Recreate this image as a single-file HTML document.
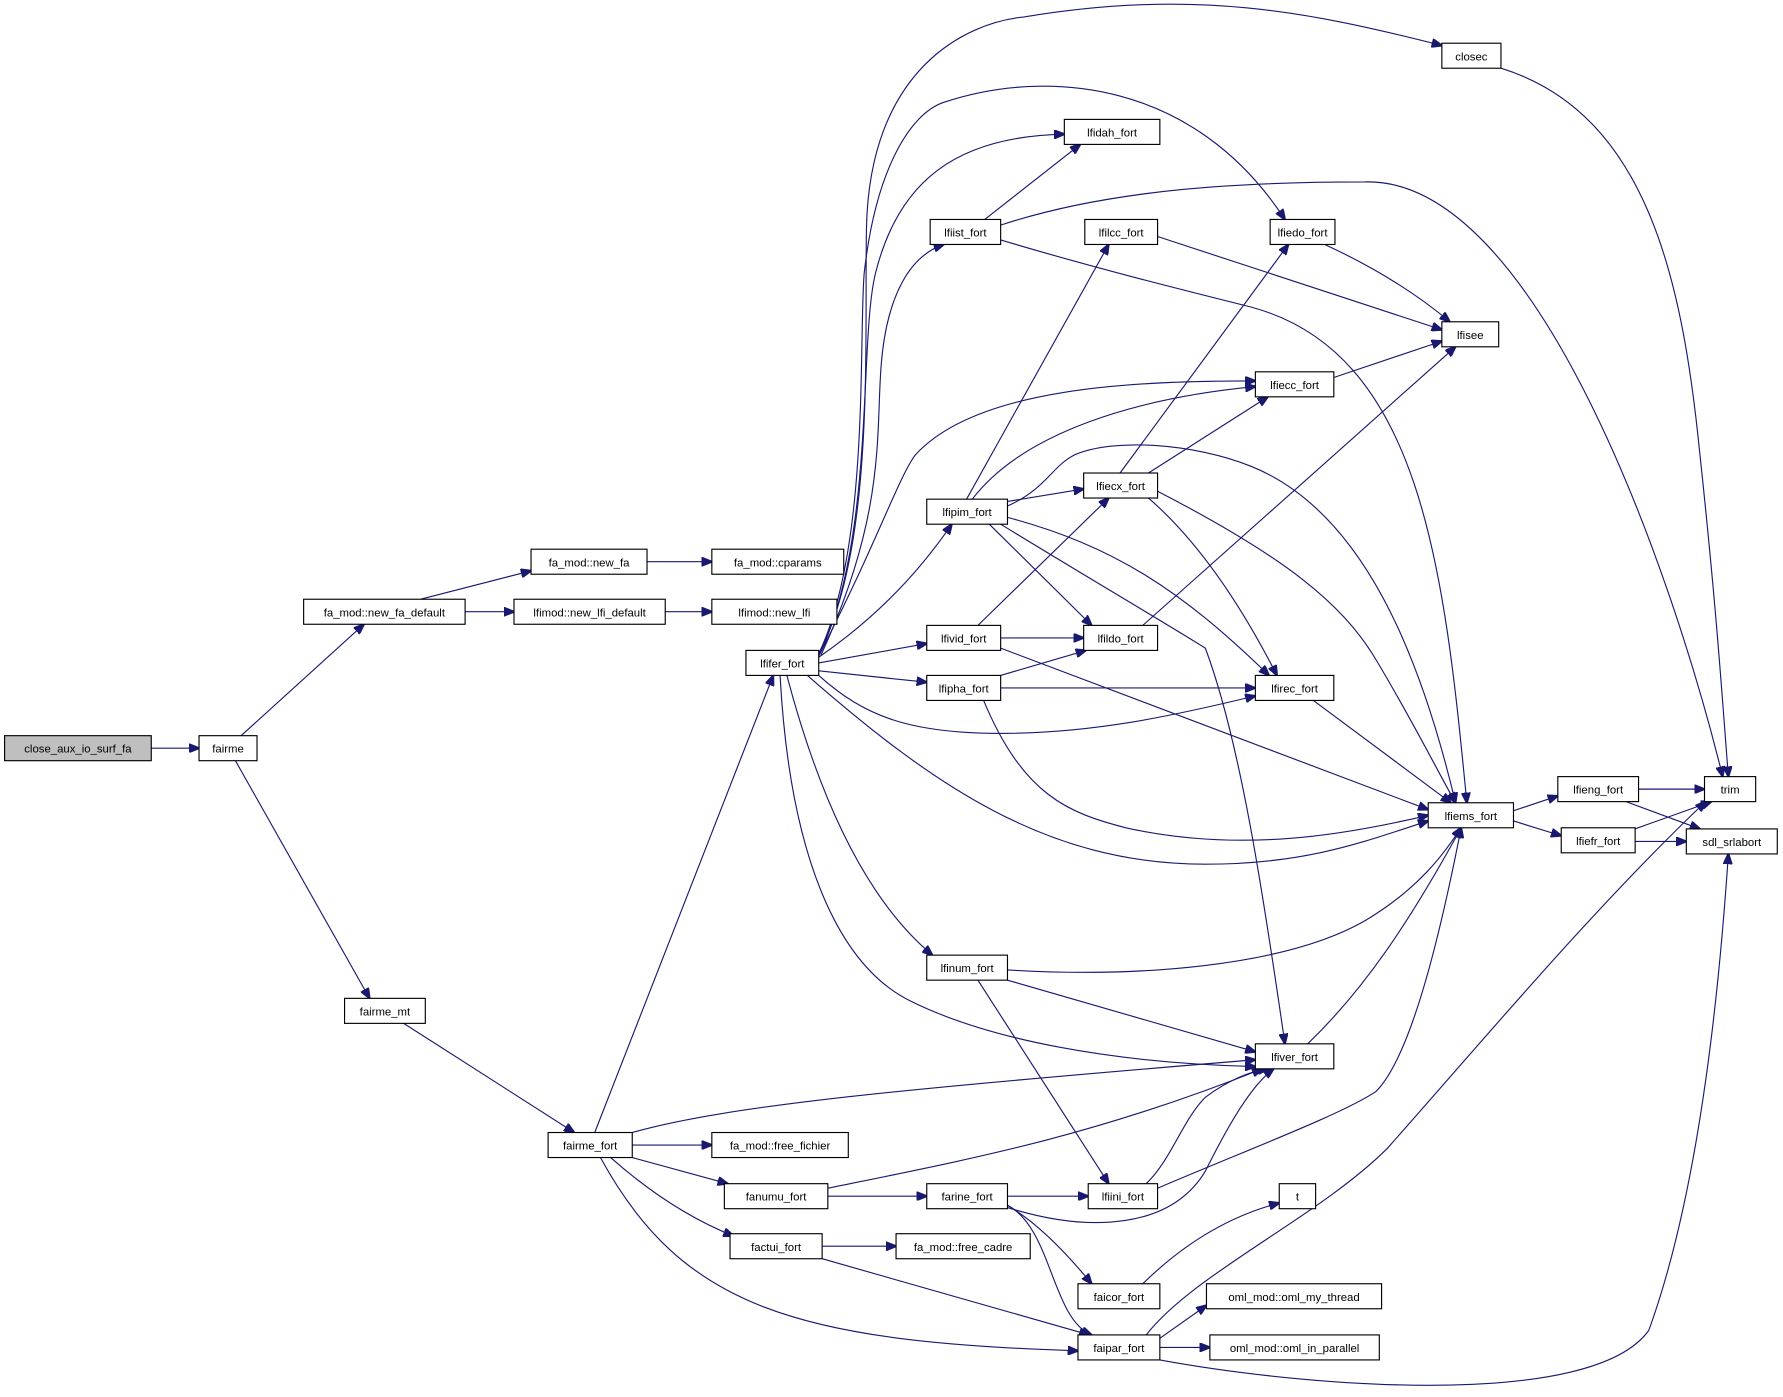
<!DOCTYPE html>
<html><head><meta charset="utf-8"><style>
html,body{margin:0;padding:0;background:#fff;}
svg{display:block;}
text{font-family:"Liberation Sans",sans-serif;font-size:10px;fill:#000;}
.e{fill:none;stroke:#191970;stroke-width:1;}
.n{fill:#fff;stroke:#000;stroke-width:1;}
</style></head><body>
<svg width="1783" height="1397" viewBox="0 0 1568 1228.6" xmlns="http://www.w3.org/2000/svg">
<defs><marker id="a" markerUnits="userSpaceOnUse" markerWidth="10" markerHeight="8" refX="9" refY="4" orient="auto"><path d="M0,0 L10,4 L0,8 z" fill="#191970" stroke="#191970"/></marker></defs>
<g class="e" marker-end="url(#a)">
<path d="M133,658 L175,658"/>
<path d="M212,647 L320,549"/>
<path d="M207,669 L325,878"/>
<path d="M370,527 L467,502"/>
<path d="M409,538 L452,538"/>
<path d="M569,494 L626,494"/>
<path d="M585,538 L626,538"/>
<path d="M355,900 L505,996"/>
<path d="M523,996 L680,594"/>
<path d="M556,1007 L626,1007"/>
<path d="M556,1018 L640,1041"/>
<path d="M537,1018 Q590,1065 645,1087"/>
<path d="M528,1018 C600,1150 700,1180 948,1188"/>
<path d="M556,996 C640,972 800,957 1104,932"/>
<path d="M728,1045 C850,1020 960,1000 1110,940"/>
<path d="M728,1052 L815,1052"/>
<path d="M723,1096 L788,1096"/>
<path d="M723,1107 L958,1174"/>
<path d="M886,1052 L957,1052"/>
<path d="M886,1060 Q920,1080 960,1129"/>
<path d="M886,1060 C925,1080 925,1160 960,1174"/>
<path d="M886,1062 C960,1085 1030,1080 1060,1030 C1080,990 1100,955 1120,940"/>
<path d="M1008,1041 C1030,1020 1040,985 1060,965 C1080,950 1100,942 1115,940"/>
<path d="M1018,1045 C1100,1010 1180,980 1210,960 C1240,930 1265,830 1285,728"/>
<path d="M1005,1129 Q1060,1075 1125,1058"/>
<path d="M1020,1177 L1061,1148"/>
<path d="M1020,1185 L1064,1185"/>
<path d="M1008,1174 C1050,1120 1160,1070 1220,1010 C1300,920 1400,800 1500,705"/>
<path d="M1020,1196 C1150,1220 1400,1240 1450,1170 C1490,1060 1510,900 1520,751"/>
<path d="M722,576 C780,450 770,380 775,320 C780,260 800,225 830,215"/>
<path d="M721,575 C770,470 755,300 770,240 C790,160 840,120 936,118"/>
<path d="M720,575 C770,480 760,300 762,200 C765,60 850,20 900,15 C1050,-10 1150,10 1268,40"/>
<path d="M720,575 C765,480 755,300 760,240 C770,150 800,100 830,90 C920,60 1050,70 1130,193"/>
<path d="M720,578 Q790,530 837,461"/>
<path d="M720,577 C770,480 790,420 805,400 C860,340 1000,335 1104,335"/>
<path d="M720,583 L815,566"/>
<path d="M720,590 L815,600"/>
<path d="M720,594 C760,630 800,645 880,645 C960,645 1030,630 1104,612"/>
<path d="M710,594 C820,690 920,760 1060,760 C1150,760 1200,740 1256,722"/>
<path d="M692,594 C720,700 760,790 820,840"/>
<path d="M686,594 C695,760 740,850 800,880 C870,915 980,935 1104,938"/>
<path d="M866,193 L950,127"/>
<path d="M880,198 C980,165 1100,160 1200,160 C1350,155 1470,500 1515,683"/>
<path d="M880,211 C960,235 1040,255 1100,270 C1250,310 1270,500 1290,706"/>
<path d="M1018,208 L1268,290"/>
<path d="M1165,215 Q1230,245 1275,283"/>
<path d="M1173,332 L1268,300"/>
<path d="M1320,60 C1450,100 1480,250 1495,400 C1510,540 1515,620 1520,683"/>
<path d="M850,439 L975,215"/>
<path d="M855,439 C900,380 1000,350 1104,340"/>
<path d="M886,441 L953,430"/>
<path d="M886,445 C920,430 925,410 945,400 C980,385 1050,390 1100,410 C1200,450 1250,580 1280,706"/>
<path d="M870,461 L960,550"/>
<path d="M886,455 C980,480 1040,520 1116,594"/>
<path d="M880,461 C960,510 1020,545 1060,570 C1090,650 1110,780 1130,918"/>
<path d="M985,416 L1133,215"/>
<path d="M1010,416 L1115,349"/>
<path d="M1010,438 Q1070,490 1123,594"/>
<path d="M1018,432 C1130,490 1180,530 1210,580 C1240,630 1260,670 1280,706"/>
<path d="M860,550 L975,438"/>
<path d="M880,561 L953,561"/>
<path d="M880,570 L1256,712"/>
<path d="M1005,550 L1280,305"/>
<path d="M880,594 L955,572"/>
<path d="M880,605 L1104,605"/>
<path d="M865,616 C900,700 940,715 990,728 C1090,750 1180,735 1256,717"/>
<path d="M1155,616 L1276,706"/>
<path d="M886,853 C1000,860 1130,850 1200,810 C1250,780 1270,750 1285,728"/>
<path d="M886,862 L1104,925"/>
<path d="M860,862 L975,1041"/>
<path d="M1150,918 C1200,870 1240,810 1285,728"/>
<path d="M1331,713 L1370,700"/>
<path d="M1331,722 L1373,735"/>
<path d="M1441,694 L1499,694"/>
<path d="M1430,705 L1495,729"/>
<path d="M1435,730 L1505,705"/>
<path d="M1438,740 L1483,740"/>
</g>
<g>
<rect x="4" y="647" width="129" height="22" fill="#bfbfbf" stroke="#000"/><text x="68.5" y="662" text-anchor="middle">close_aux_io_surf_fa</text>
<rect class="n" x="175" y="647" width="51" height="22"/><text x="200.5" y="662" text-anchor="middle">fairme</text>
<rect class="n" x="267" y="527" width="142" height="22"/><text x="338" y="542" text-anchor="middle">fa_mod::new_fa_default</text>
<rect class="n" x="467" y="483" width="102" height="22"/><text x="518" y="498" text-anchor="middle">fa_mod::new_fa</text>
<rect class="n" x="626" y="483" width="116" height="22"/><text x="684" y="498" text-anchor="middle">fa_mod::cparams</text>
<rect class="n" x="452" y="527" width="133" height="22"/><text x="518.5" y="542" text-anchor="middle">lfimod::new_lfi_default</text>
<rect class="n" x="626" y="527" width="110" height="22"/><text x="681" y="542" text-anchor="middle">lfimod::new_lfi</text>
<rect class="n" x="303" y="878" width="71" height="22"/><text x="338.5" y="893" text-anchor="middle">fairme_mt</text>
<rect class="n" x="482" y="996" width="74" height="22"/><text x="519" y="1011" text-anchor="middle">fairme_fort</text>
<rect class="n" x="656" y="572" width="64" height="22"/><text x="688" y="587" text-anchor="middle">lfifer_fort</text>
<rect class="n" x="626" y="996" width="120" height="22"/><text x="686" y="1011" text-anchor="middle">fa_mod::free_fichier</text>
<rect class="n" x="637" y="1041" width="91" height="22"/><text x="682.5" y="1056" text-anchor="middle">fanumu_fort</text>
<rect class="n" x="642" y="1085" width="81" height="22"/><text x="682.5" y="1100" text-anchor="middle">factui_fort</text>
<rect class="n" x="788" y="1085" width="118" height="22"/><text x="847" y="1100" text-anchor="middle">fa_mod::free_cadre</text>
<rect class="n" x="815" y="1041" width="71" height="22"/><text x="850.5" y="1056" text-anchor="middle">farine_fort</text>
<rect class="n" x="948" y="1129" width="72" height="22"/><text x="984" y="1144" text-anchor="middle">faicor_fort</text>
<rect class="n" x="948" y="1174" width="72" height="22"/><text x="984" y="1189" text-anchor="middle">faipar_fort</text>
<rect class="n" x="1061" y="1129" width="154" height="22"/><text x="1138" y="1144" text-anchor="middle">oml_mod::oml_my_thread</text>
<rect class="n" x="1064" y="1174" width="149" height="22"/><text x="1138.5" y="1189" text-anchor="middle">oml_mod::oml_in_parallel</text>
<rect class="n" x="1125" y="1041" width="32" height="22"/><text x="1141" y="1056" text-anchor="middle">t</text>
<rect class="n" x="957" y="1041" width="61" height="22"/><text x="987.5" y="1056" text-anchor="middle">lfiini_fort</text>
<rect class="n" x="815" y="840" width="71" height="22"/><text x="850.5" y="855" text-anchor="middle">lfinum_fort</text>
<rect class="n" x="1104" y="918" width="69" height="22"/><text x="1138.5" y="933" text-anchor="middle">lfiver_fort</text>
<rect class="n" x="818" y="193" width="62" height="22"/><text x="849" y="208" text-anchor="middle">lfiist_fort</text>
<rect class="n" x="936" y="105" width="84" height="22"/><text x="978" y="120" text-anchor="middle">lfidah_fort</text>
<rect class="n" x="1268" y="38" width="52" height="22"/><text x="1294" y="53" text-anchor="middle">closec</text>
<rect class="n" x="954" y="193" width="64" height="22"/><text x="986" y="208" text-anchor="middle">lfilcc_fort</text>
<rect class="n" x="1117" y="193" width="57" height="22"/><text x="1145.5" y="208" text-anchor="middle">lfiedo_fort</text>
<rect class="n" x="1268" y="283" width="50" height="22"/><text x="1293" y="298" text-anchor="middle">lfisee</text>
<rect class="n" x="1104" y="327" width="69" height="22"/><text x="1138.5" y="342" text-anchor="middle">lfiecc_fort</text>
<rect class="n" x="815" y="439" width="71" height="22"/><text x="850.5" y="454" text-anchor="middle">lfipim_fort</text>
<rect class="n" x="953" y="416" width="65" height="22"/><text x="985.5" y="431" text-anchor="middle">lfiecx_fort</text>
<rect class="n" x="815" y="550" width="65" height="22"/><text x="847.5" y="565" text-anchor="middle">lfivid_fort</text>
<rect class="n" x="953" y="550" width="65" height="22"/><text x="985.5" y="565" text-anchor="middle">lfildo_fort</text>
<rect class="n" x="815" y="594" width="65" height="22"/><text x="847.5" y="609" text-anchor="middle">lfipha_fort</text>
<rect class="n" x="1104" y="594" width="69" height="22"/><text x="1138.5" y="609" text-anchor="middle">lfirec_fort</text>
<rect class="n" x="1256" y="706" width="75" height="22"/><text x="1293.5" y="721" text-anchor="middle">lfiems_fort</text>
<rect class="n" x="1370" y="683" width="71" height="22"/><text x="1405.5" y="698" text-anchor="middle">lfieng_fort</text>
<rect class="n" x="1373" y="728" width="65" height="22"/><text x="1405.5" y="743" text-anchor="middle">lfiefr_fort</text>
<rect class="n" x="1499" y="683" width="45" height="22"/><text x="1521.5" y="698" text-anchor="middle">trim</text>
<rect class="n" x="1483" y="729" width="80" height="22"/><text x="1523" y="744" text-anchor="middle">sdl_srlabort</text>
</g>
</svg>
</body></html>
